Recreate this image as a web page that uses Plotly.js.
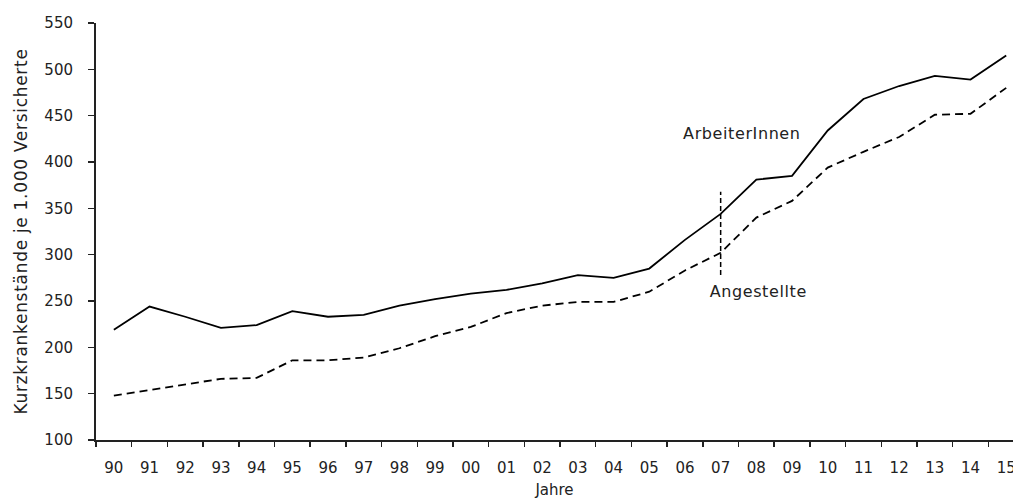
<!DOCTYPE html>
<html>
<head>
<meta charset="utf-8">
<script src="https://cdn.plot.ly/plotly-3.0.1.min.js"></script>
<style>
html,body{margin:0;padding:0;background:#fff;}
#chart{width:1013px;height:499px;}
#chart .ytitle{letter-spacing:0.7px;}
#chart .annotation-text{letter-spacing:0.6px;}
</style>
</head>
<body>
<div id="chart"></div>
<script>
const years = ["90","91","92","93","94","95","96","97","98","99","00","01","02","03","04","05","06","07","08","09","10","11","12","13","14","15"];
const arbeiterInnen = [219,244,233,221,224,239,233,235,245,252,258,262,269,278,275,285,316,344,381,385,434,468,482,493,489,515];
const angestellte = [148,154,160,166,167,186,186,189,199,212,222,237,245,249,249,260,283,302,340,358,394,411,427,451,452,480];
const seriesNames = ["ArbeiterInnen", "Angestellte"];
const yTitle = "Kurzkrankenstände je 1.000 Versicherte";
const xTitle = "Jahre";
const markerYear = "07";
const markerRange = [278, 368];
const labelPos = {ArbeiterInnen: [17.6, 431], Angestellte: [18.05, 260]};

const FONT = "DejaVu Sans, sans-serif";
const traces = [
  {x: years, y: arbeiterInnen, type: "scatter", mode: "lines", name: seriesNames[0],
   line: {color: "#000", width: 1.8}},
  {x: years, y: angestellte, type: "scatter", mode: "lines", name: seriesNames[1],
   line: {color: "#000", width: 1.8, dash: "8px,5px"}}
];
const mi = years.indexOf(markerYear);
const layout = {
  width: 1013, height: 499,
  margin: {l: 96, r: 0, t: 23, b: 59},
  paper_bgcolor: "#fff", plot_bgcolor: "#fff",
  showlegend: false,
  font: {family: FONT, size: 15, color: "#222"},
  xaxis: {
    type: "category", range: [-0.5, 25.19],
    tickson: "boundaries", ticks: "outside", ticklen: 5, tickwidth: 1.5, tickcolor: "#222",
    showline: true, linecolor: "#222", linewidth: 2, showgrid: false, zeroline: false,
    ticklabelstandoff: 13, tickfont: {family: FONT, size: 15, color: "#222"},
    title: {text: xTitle, font: {family: FONT, size: 15, color: "#222"}, standoff: 8}
  },
  yaxis: {
    range: [100, 550], tickvals: [100,150,200,250,300,350,400,450,500,550],
    ticks: "outside", ticklen: 6, tickwidth: 1.5, tickcolor: "#222",
    showline: true, linecolor: "#222", linewidth: 2, showgrid: false, zeroline: false,
    ticklabelstandoff: 12, tickfont: {family: FONT, size: 15, color: "#222"},
    title: {text: yTitle, font: {family: FONT, size: 17, color: "#222"}, standoff: 12}
  },
  shapes: [{type: "line", xref: "x", yref: "y", x0: mi, x1: mi, y0: markerRange[0], y1: markerRange[1],
            line: {color: "#000", width: 1.5, dash: "5px,3px"}}],
  annotations: seriesNames.map(n => ({x: labelPos[n][0], y: labelPos[n][1], xref: "x", yref: "y",
     text: n, showarrow: false, font: {family: FONT, size: 16, color: "#222"}}))
};
Plotly.newPlot("chart", traces, layout, {displayModeBar: false, staticPlot: true});
</script>
</body>
</html>
